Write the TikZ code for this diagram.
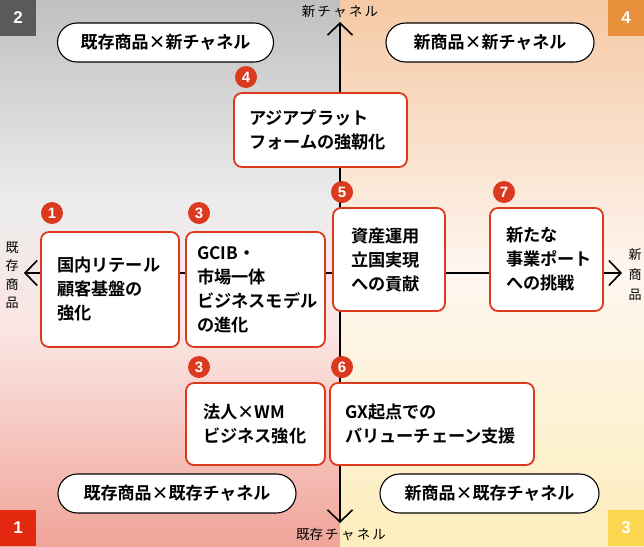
\documentclass[tikz,border=0pt]{standalone}
\usepackage{fontspec}
\setmainfont{Noto Sans CJK JP}[BoldFont={Noto Sans CJK JP Bold}]
\newfontfamily\latinbold{Liberation Sans}[BoldFont={Liberation Sans Bold}]
\usetikzlibrary{arrows.meta}
\definecolor{accent}{HTML}{DC3A1E}
\definecolor{lgA}{HTML}{C0C0C0}
\definecolor{lgB}{HTML}{ECECEC}
\definecolor{lgC}{HTML}{FBE6E3}
\definecolor{lgD}{HTML}{F0A499}
\definecolor{rgA}{HTML}{F5C9A4}
\definecolor{rgB}{HTML}{FEF6F0}
\definecolor{rgC}{HTML}{FDEEBC}
\definecolor{cq2}{HTML}{5A5A5A}
\definecolor{cq4}{HTML}{E8903C}
\definecolor{cq1}{HTML}{E3290F}
\definecolor{cq3}{HTML}{FBD64E}
\tikzset{
  boxnode/.style={draw=accent, line width=1.8pt, fill=white, rounded corners=8pt,
    align=left, inner ysep=0pt, font=\bfseries\fontsize{17.2}{24}\selectfont},
  pill/.style={draw=black, line width=1.1pt, fill=white, rounded corners=19.5pt,
    minimum height=39pt, inner sep=0pt, font=\bfseries\fontsize{17}{20}\selectfont},
  badge/.style={circle, fill=accent, text=white, minimum size=22pt, inner sep=0pt,
    font=\latinbold\bfseries\fontsize{15}{15}\selectfont},
  corner/.style={minimum size=36pt, inner sep=0pt, text=white,
    font=\latinbold\bfseries\fontsize{17}{17}\selectfont},
  axislabel/.style={font=\fontsize{13.5}{18}\selectfont, inner sep=0pt},
  axisline/.style={line width=1.6pt, draw=black},
  axisarrow/.style={axisline, -{Straight Barb[length=12pt, width=25pt, line width=1.6pt]}},
}
\begin{document}
\begin{tikzpicture}[x=1pt, y=-1pt]
\useasboundingbox (0,0) rectangle (644,546);
% backgrounds
\fill[top color=lgA, bottom color=lgB] (0,0) rectangle (340.5,201);
\fill[top color=lgB, bottom color=lgC] (0,200) rectangle (340.5,331);
\fill[top color=lgC, bottom color=lgD] (0,330) rectangle (340.5,546);
\fill[top color=rgA, bottom color=rgB] (340,0) rectangle (644,274);
\fill[top color=rgB, bottom color=rgC] (340,273) rectangle (644,546);
% corner squares
\node[corner, fill=cq2] (c2) at (18,18) {2};
\node[corner, fill=cq4] (c4) at (626,18) {4};
\node[corner, fill=cq1] (c1) at (18,528) {1};
\node[corner, fill=cq3] (c3) at (626,528) {3};
% axes
\coordinate (axT) at (340,22);
\coordinate (axB) at (340,523);
\coordinate (axL) at (24,273);
\coordinate (axR) at (622,273);
\coordinate (axC) at (340,273);
\draw[axisarrow] (axC) -- (axT);
\draw[axisarrow] (axC) -- (axB);
\draw[axisarrow] (axC) -- (axL);
\draw[axisarrow] (axC) -- (axR);
\node[axislabel] (lt) at (340,11) {新\,チ\,ャ\,ネ\,ル};
\node[axislabel] (lb) at (341,534) {既存\,チ\,ャ\,ネ\,ル};
\node[axislabel, align=center, font=\fontsize{13}{18.5}\selectfont] (ll) at (12,275.5) {既\\存\\商\\品};
\node[axislabel, align=center, font=\fontsize{13}{20}\selectfont] (lr) at (635,274.5) {新\\商\\品};
% pills
\node[pill, minimum width=216pt] (p1) at (165.5,42.5) {既存商品×新チャネル};
\node[pill, minimum width=208pt] (p2) at (490,42.5) {新商品×新チャネル};
\node[pill, minimum width=238pt] (p3) at (177,493.5) {既存商品×既存チャネル};
\node[pill, minimum width=219pt] (p4) at (489.5,493.5) {新商品×既存チャネル};
% boxes
\node[boxnode, inner xsep=15pt, text width=143pt, minimum height=74pt] (b4) at (320.5,130) {アジアプラット\\フォームの強靭化};
\node[boxnode, inner xsep=16pt, text width=106pt, minimum height=115pt] (b1) at (110,289.5) {国内リテール\\顧客基盤の\\強化};
\node[boxnode, inner xsep=11pt, text width=117pt, minimum height=115pt] (b3a) at (255.5,289.5) {GCIB・\\市場一体\\ビジネスモデル\\の進化};
\node[boxnode, inner xsep=18pt, text width=76pt, minimum height=103pt] (b5) at (389,259.5) {資産運用\\立国実現\\への貢献};
\node[boxnode, inner xsep=16pt, text width=81pt, minimum height=103pt] (b7) at (546.5,259.5) {新たな\\事業ポート\\への挑戦};
\node[boxnode, inner xsep=17pt, text width=105pt, minimum height=82pt] (b3b) at (255.5,424) {法人×WM\\ビジネス強化};
\node[boxnode, inner xsep=15pt, text width=174pt, minimum height=82pt] (b6) at (432,424) {GX起点での\\バリューチェーン支援};
% badges
\node[badge] (n4) at (246,77) {4};
\node[badge] (n1) at (52,213) {1};
\node[badge] (n3a) at (199,213) {3};
\node[badge] (n5) at (342,192) {5};
\node[badge] (n7) at (504,192) {7};
\node[badge] (n3b) at (199,367) {3};
\node[badge] (n6) at (342,367) {6};
\end{tikzpicture}
\end{document}
